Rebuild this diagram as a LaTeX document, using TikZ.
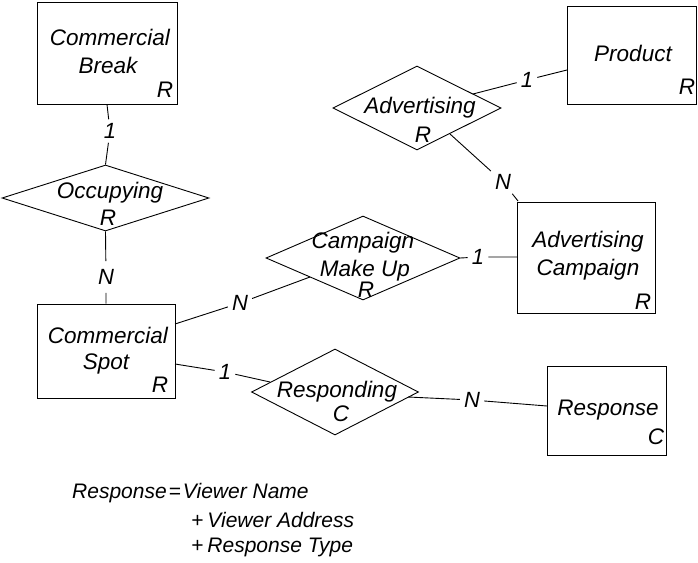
\documentclass[tikz,border=0pt]{standalone}
\usepackage{fontspec}
\setmainfont{Liberation Sans}
\usetikzlibrary{shapes.geometric}
\begin{document}
\begin{tikzpicture}[x=1pt,y=-1pt,
  ent/.style={draw, rectangle, inner sep=0, line width=0.9pt},
  rel/.style={draw, diamond, inner sep=0, line width=0.9pt},
  txt/.style={font=\fontsize{22.5}{26}\selectfont\itshape, inner sep=0},
  eqtxt/.style={font=\fontsize{21}{25}\selectfont\itshape, inner sep=0},
  card/.style={font=\fontsize{22}{26}\selectfont\itshape, inner sep=4pt},
  conn/.style={line width=0.9pt}]
\useasboundingbox[fill=white] (0,0) rectangle (698,562);
% entities
\node[ent, minimum width=140pt, minimum height=102pt] (cb) at (107,53) {};
\node[ent, minimum width=129pt, minimum height=98pt] (prod) at (631.5,55) {};
\node[ent, minimum width=138pt, minimum height=111pt] (ac) at (586,257.5) {};
\node[ent, minimum width=138pt, minimum height=94pt] (cs) at (106,351) {};
\node[ent, minimum width=119pt, minimum height=89pt] (rsp) at (606.5,410.5) {};
% relationships
\node[rel, minimum width=207pt, minimum height=66pt] (occ) at (105.5,198) {};
\node[rel, minimum width=168pt, minimum height=84pt] (adv) at (417,108) {};
\node[rel, minimum width=194pt, minimum height=84pt] (cmu) at (363,258) {};
\node[rel, minimum width=167pt, minimum height=86pt] (resp) at (335,392) {};
% entity texts
\node[txt] (cbt1) at (110,37) {Commercial};
\node[txt] (cbt2) at (108,65) {Break};
\node[txt] (cbr) at (165,90) {R};
\node[txt] (prt) at (633,53) {Product};
\node[txt] (prr) at (687,87) {R};
\node[txt] (act1) at (588,242) {Advertising};
\node[txt] (act2) at (588,270) {Campaign};
\node[txt] (acr) at (643,302) {R};
\node[txt] (cst1) at (108,335) {Commercial};
\node[txt] (cst2) at (106,364) {Spot};
\node[txt] (csr) at (160,385) {R};
\node[txt] (rst) at (608,410) {Response};
\node[txt] (rsc) at (656,437) {C};
% relationship texts
\node[txt] (occt) at (110,193) {Occupying};
\node[txt] (occr) at (108,218) {R};
\node[txt] (advt) at (420,108) {Advertising};
\node[txt] (advr) at (423,135) {R};
\node[txt] (cmut1) at (363,243) {Campaign};
\node[txt] (cmut2) at (365,271) {Make Up};
\node[txt] (cmur) at (366,290) {R};
\node[txt] (respt) at (337,392) {Responding};
\node[txt] (respc) at (341,414) {C};
% cardinality labels
\node[card] (l1) at (110,131) {1};
\node[card, inner sep=8pt] (l2) at (106,277) {N};
\node[card] (l3) at (527,80) {1};
\node[card] (l4) at (503,182) {N};
\node[card] (l5) at (478,257) {1};
\node[card] (l6) at (240,303) {N};
\node[card] (l7) at (225,372) {1};
\node[card] (l8) at (472,400) {N};
% connector end points
\coordinate (cbS) at (cb.south);
\coordinate (occN) at (occ.north);
\coordinate (occS) at (occ.south);
\coordinate (csN) at (cs.north);
\coordinate (advNE) at (473,94);
\coordinate (prodW) at (567,70);
\coordinate (advSE) at (450,134);
\coordinate (acNW) at (518,201);
\coordinate (cmuE) at (cmu.east);
\coordinate (acW) at (517,257);
\coordinate (csE1) at (175,324);
\coordinate (cmuSW) at (310,277);
\coordinate (csE2) at (175,364);
\coordinate (respNW) at (270,382);
\coordinate (respE) at (408,397);
\coordinate (rspW) at (547,406);
% connectors
\draw[conn] (cbS) -- (l1) -- (occN);
\draw[conn] (occS) -- (l2) -- (csN);
\draw[conn] (advNE) -- (l3) -- (prodW);
\draw[conn] (advSE) -- (l4) -- (acNW);
\draw[conn] (cmuE) -- (l5) -- (acW);
\draw[conn] (csE1) -- (l6) -- (cmuSW);
\draw[conn] (csE2) -- (l7) -- (respNW);
\draw[conn] (respE) -- (l8) -- (rspW);
% data definition
\node[eqtxt, anchor=west] (eq1) at (72,493) {Response\hspace{2pt}=\hspace{2pt}Viewer Name};
\node[eqtxt, anchor=west] (eq2) at (191,520) {+\hspace{4pt}Viewer Address};
\node[eqtxt, anchor=west] (eq3) at (191,547) {+\hspace{4pt}Response Type};
\end{tikzpicture}
\end{document}
